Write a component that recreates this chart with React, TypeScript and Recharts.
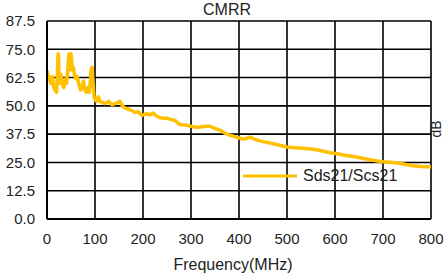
import { CartesianGrid, Legend, Line, LineChart, XAxis, YAxis } from "recharts";

const FREQS = [
  0, 2, 5, 8, 11, 14, 17, 20, 22, 23, 24, 25, 27, 29, 31, 33, 35, 37, 39, 41, 43, 45, 46, 48, 49, 50, 51, 53, 55,
  57, 60, 63, 66, 70, 73, 76, 79, 82, 85, 88, 90, 92, 94, 96, 98, 100, 103, 107, 110, 115, 121, 128, 135, 142, 148,
  152, 157, 163, 170, 176, 183, 190, 196, 200, 207, 214, 221, 228, 235, 242, 250, 258, 267, 275, 283, 290, 300, 308,
  315, 322, 330, 340, 350, 360, 370, 381, 390, 397, 405, 412, 418, 423, 430, 437, 450, 465, 480, 500, 515, 527, 545,
  562, 578, 590, 605, 617, 635, 652, 670, 688, 700, 708, 720, 735, 750, 763, 780, 800,
];

const CMRR = [
  65.5, 64, 62, 60, 63, 58, 57, 56, 66, 73, 72, 62, 60, 64, 61, 59, 58, 60, 62, 60, 65, 71, 73, 70, 66, 73, 71, 66,
  67, 64, 62, 63, 60, 57, 58, 61, 57, 56, 58, 56, 60, 66, 67, 60, 54, 53, 52, 54, 52, 51.5, 51, 52, 50.5, 51, 51.5,
  52, 50, 49, 48.5, 48, 47, 47.5, 46, 46, 46.5, 46, 46.8, 45.5, 44.8, 44.5, 44.5, 44, 43.5, 42, 41.5, 41.5, 41, 40.7,
  40.5, 40.8, 41, 41, 40, 39.3, 38, 37, 36.5, 36, 35.5, 35.4, 35.8, 36.2, 35.5, 34.9, 34.2, 33.6, 32.8, 31.8, 31.5,
  31.4, 31, 30.6, 29.8, 29.3, 28.8, 28.3, 27.7, 27.1, 26.3, 25.6, 25.3, 25.2, 25, 24.6, 24, 23.5, 23.2, 23,
];

const X_TICKS = [0, 100, 200, 300, 400, 500, 600, 700, 800];
const Y_TICKS = [0, 12.5, 25, 37.5, 50, 62.5, 75, 87.5];

const data = FREQS.map((f, i) => ({ freq: f, cmrr: CMRR[i] }));

const FONT = "'Liberation Sans', Arial, sans-serif";
const TEXT = "#222";
const GOLD = "#FFC000";

export default function App() {
  return (
    <div style={{ position: "absolute", left: 0, top: 0, width: 444, height: 273, fontFamily: FONT, background: "#fff" }}>
      <LineChart width={444} height={273} data={data} margin={{ top: 21, right: 13, bottom: 24, left: 0 }}>
        <CartesianGrid stroke="#000" strokeWidth={1.6} />
        <XAxis
          dataKey="freq"
          type="number"
          domain={[0, 800]}
          ticks={X_TICKS}
          height={30}
          tickSize={0}
          tickMargin={14}
          axisLine={{ stroke: "#000", strokeWidth: 2 }}
          tick={{ fill: TEXT, fontSize: 15, fontFamily: FONT }}
        />
        <YAxis
          type="number"
          domain={[0, 87.5]}
          ticks={Y_TICKS}
          width={47}
          tickSize={0}
          tickMargin={12}
          axisLine={{ stroke: "#000", strokeWidth: 2 }}
          tickFormatter={(v: number) => v.toFixed(1)}
          tick={{ fill: TEXT, fontSize: 15, fontFamily: FONT }}
        />
        <Legend
          layout="horizontal"
          verticalAlign="middle"
          wrapperStyle={{ position: "absolute", left: 243, top: 166, width: 170 }}
          content={() => (
            <div style={{ display: "flex", alignItems: "center", fontSize: 16, color: TEXT, fontFamily: FONT }}>
              <svg width={54} height={20}>
                <line x1={0} y1={10} x2={54} y2={10} stroke={GOLD} strokeWidth={3} />
              </svg>
              <span style={{ marginLeft: 6 }}>Sds21/Scs21</span>
            </div>
          )}
        />
        <Line
          type="linear"
          dataKey="cmrr"
          name="Sds21/Scs21"
          stroke={GOLD}
          strokeWidth={3.5}
          strokeLinejoin="round"
          dot={false}
          isAnimationActive={false}
        />
      </LineChart>
      <div style={{ position: "absolute", left: 127, width: 200, top: 0, textAlign: "center", fontSize: 16, color: TEXT, lineHeight: "20px" }}>
        CMRR
      </div>
      <div style={{ position: "absolute", left: 133, width: 200, top: 255, textAlign: "center", fontSize: 16, color: TEXT, lineHeight: "20px" }}>
        Frequency(MHz)
      </div>
      <div
        style={{
          position: "absolute",
          left: 426,
          top: 122,
          width: 20,
          height: 14,
          textAlign: "center",
          fontSize: 14,
          color: TEXT,
          lineHeight: "14px",
          transform: "rotate(-90deg)",
        }}
      >
        dB
      </div>
    </div>
  );
}
